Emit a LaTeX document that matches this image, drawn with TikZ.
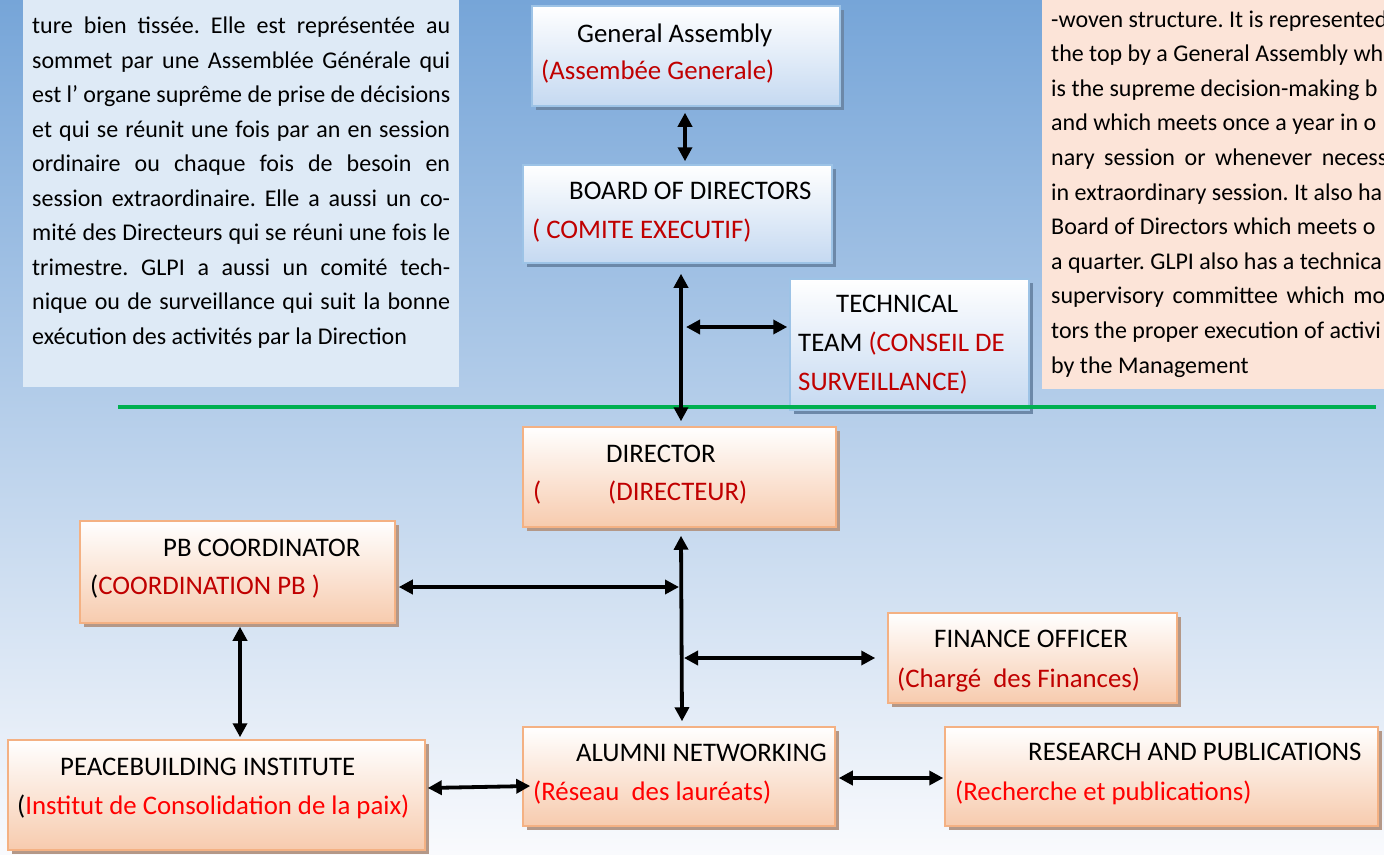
\documentclass[tikz,border=0pt]{standalone}
\usepackage{fontspec}
\setmainfont{Carlito}
\usetikzlibrary{arrows.meta,shadows}
\frenchspacing
\definecolor{bgtop}{HTML}{76A5D8}
\definecolor{bgmid}{HTML}{D2DEEF}
\definecolor{bgbot}{HTML}{F9FAFD}
\definecolor{frbox}{HTML}{DEEAF6}
\definecolor{enbox}{HTML}{FCE4D8}
\definecolor{blueline}{HTML}{9DC3E6}
\definecolor{bluebot}{HTML}{C5D9F1}
\definecolor{blueshadow}{HTML}{6C88A8}
\definecolor{orangeline}{HTML}{F4B183}
\definecolor{orangebot}{HTML}{F7CBAE}
\definecolor{orangeshadow}{HTML}{B49888}
\definecolor{dred}{HTML}{C00000}
\definecolor{bred}{HTML}{FF0000}
\definecolor{sepgreen}{HTML}{00B050}
\begin{document}
\begin{tikzpicture}[x=1pt,y=-1pt,
  bluebox/.style={draw=blueline, line width=1.5pt, top color=white, bottom color=bluebot, inner sep=0,
    drop shadow={shadow xshift=4pt, shadow yshift=-4pt, fill=blueshadow, opacity=1}},
  orangebox/.style={draw=orangeline, line width=1.5pt, top color=white, bottom color=orangebot, inner sep=0,
    drop shadow={shadow xshift=4pt, shadow yshift=-4pt, fill=orangeshadow, opacity=1}},
  txt/.style={anchor=base west, inner sep=0, font=\fontsize{26.8}{30}\selectfont},
  ptxt/.style={anchor=base west, inner sep=0, font=\fontsize{24}{28}\selectfont},
  bi/.style={{Triangle[length=14pt,width=14pt]}-{Triangle[length=14pt,width=14pt]}, line width=3.8pt, black},
  sep/.style={draw=sepgreen, line width=4pt}
]
\useasboundingbox (0,0) rectangle (1384,854);
\clip (0,0) rectangle (1384,854);
\shade[top color=bgtop, middle color=bgmid, bottom color=bgbot] (0,0) rectangle (1384,854);

% text panels
\node[fill=frbox, inner sep=0, minimum width=436pt, minimum height=407pt] (frpanel) at (241,183.5) {};
\node[fill=enbox, inner sep=0, minimum width=440pt, minimum height=409pt] (enpanel) at (1262,184.5) {};

% French paragraph
\node[ptxt] (l1) at (32,33.5) {\makebox[418pt][s]{ture bien tissée. Elle est représentée au}};
\node[ptxt] (l2) at (32,68) {\makebox[418pt][s]{sommet par une Assemblée Générale qui}};
\node[ptxt] (l3) at (32,102.5) {\makebox[418pt][s]{est l{\char"0027} organe suprême de prise de décisions}};
\node[ptxt] (l4) at (32,137) {\makebox[418pt][s]{et qui se réunit une fois par an en session}};
\node[ptxt] (l5) at (32,171.5) {\makebox[418pt][s]{ordinaire ou chaque fois de besoin en}};
\node[ptxt] (l6) at (32,206) {\makebox[418pt][s]{session extraordinaire. Elle a aussi un co-}};
\node[ptxt] (l7) at (32,240.5) {\makebox[418pt][s]{mité des Directeurs qui se réuni une fois le}};
\node[ptxt] (l8) at (32,275) {\makebox[418pt][s]{trimestre. GLPI a aussi un comité tech-}};
\node[ptxt] (l9) at (32,309.5) {\makebox[418pt][s]{nique ou de surveillance qui suit la bonne}};
\node[ptxt] (l10) at (32,344) {exécution des activités par la Direction};

% English paragraph
\node[ptxt] (r1) at (1051,27) {-woven structure. It is represented};
\node[ptxt] (r2) at (1051,61.6) {the top by a General Assembly wh};
\node[ptxt] (r3) at (1051,96.2) {is the supreme decision-making b};
\node[ptxt] (r4) at (1051,130.8) {and which meets once a year in o};
\node[ptxt] (r5) at (1051,165.4) {\makebox[336pt][s]{nary session or whenever necess}};
\node[ptxt] (r6) at (1051,200) {in extraordinary session. It also ha};
\node[ptxt] (r7) at (1051,234.6) {Board of Directors which meets o};
\node[ptxt] (r8) at (1051,269.2) {a quarter. GLPI also has a technica};
\node[ptxt] (r9) at (1051,303.8) {\makebox[334pt][s]{supervisory committee which mo}};
\node[ptxt] (r10) at (1051,338.4) {tors the proper execution of activi};
\node[ptxt] (r11) at (1051,373) {by the Management};

% blue boxes
\node[bluebox, minimum width=308pt, minimum height=100pt] (ga) at (686,56) {};
\node[bluebox, minimum width=309pt, minimum height=98pt] (board) at (677.5,214) {};
\node[bluebox, minimum width=239pt, minimum height=131pt] (tech) at (909.5,344.5) {};

% orange boxes
\node[orangebox, minimum width=313pt, minimum height=100pt] (dir) at (679.5,477) {};
\node[orangebox, minimum width=315pt, minimum height=102pt] (pb) at (237.5,572) {};
\node[orangebox, minimum width=417pt, minimum height=110pt] (pi) at (216.5,795) {};
\node[orangebox, minimum width=312pt, minimum height=99pt] (alum) at (679,776.5) {};
\node[orangebox, minimum width=289pt, minimum height=90pt] (fin) at (1032.5,658) {};
\node[orangebox, minimum width=433pt, minimum height=99pt] (res) at (1161.5,776.5) {};

% box texts
\node[txt] (gat1) at (577,42) {General Assembly};
\node[txt] (gat2) at (541,79) {\textcolor{dred}{(Assembée Generale)}};
\node[txt] (bt1) at (569,199) {BOARD OF DIRECTORS};
\node[txt] (bt2) at (532,238) {\textcolor{dred}{( COMITE EXECUTIF)}};
\node[txt] (tt1) at (836,312) {TECHNICAL};
\node[txt] (tt2) at (798,351) {TEAM \textcolor{dred}{(CONSEIL DE}};
\node[txt] (tt3) at (798,390) {\textcolor{dred}{SURVEILLANCE)}};
\node[txt] (dt1) at (606,462) {DIRECTOR};
\node[txt] (dt2) at (533,500) {\textcolor{dred}{(}};
\node[txt] (dt3) at (608,500) {\textcolor{dred}{(DIRECTEUR)}};
\node[txt] (pt1) at (163,556) {PB COORDINATOR};
\node[txt] (pt2) at (90,594) {(\textcolor{dred}{COORDINATION PB )}};
\node[txt] (it1) at (60,775) {PEACEBUILDING INSTITUTE};
\node[txt] (it2) at (17,814) {(\textcolor{bred}{Institut de Consolidation de la paix)}};
\node[txt] (at1) at (576,761) {ALUMNI NETWORKING};
\node[txt] (at2) at (533,800) {\textcolor{bred}{(Réseau\ \ des lauréats)}};
\node[txt] (ft1) at (934,647) {FINANCE OFFICER};
\node[txt] (ft2) at (897,687) {\textcolor{dred}{(Chargé\ \ des Finances)}};
\node[txt] (rt1) at (1028,760) {RESEARCH AND PUBLICATIONS};
\node[txt] (rt2) at (955,800) {\textcolor{bred}{(Recherche et publications)}};

% separator
\coordinate (g1) at (118,407);
\coordinate (g2) at (1376,407);
\draw[sep] (g1) -- (g2);

% junction points on the vertical connectors
\coordinate (tj) at (686,327);
\coordinate (pj) at (679,587);
\coordinate (fj) at (684,658);

% connectors
\draw[bi] ([xshift=-1pt,yshift=-6pt]ga.south) -- ([xshift=7.5pt,yshift=3pt]board.north);
\draw[bi] ([xshift=3.5pt,yshift=-10pt]board.south) -- ([xshift=1.5pt,yshift=5pt]dir.north);
\draw[bi] (tj) -- ([xshift=-2pt,yshift=17.5pt]tech.west);
\draw[bi] ([xshift=1.5pt,yshift=-8pt]dir.south) -- ([xshift=3pt,yshift=5pt]alum.north);
\draw[bi] ([xshift=3pt,yshift=-15pt]pb.east) -- (pj);
\draw[bi] (fj) -- ([xshift=-12pt]fin.west);
\draw[bi] ([xshift=2.5pt,yshift=-3pt]pb.south) -- ([xshift=23.5pt,yshift=2pt]pi.north);
\draw[bi] ([xshift=2pt,yshift=7pt]pi.east) -- ([xshift=8pt,yshift=-9.5pt]alum.west);
\draw[bi] ([xshift=3pt,yshift=-1.5pt]alum.east) -- ([xshift=-1pt,yshift=-1.5pt]res.west);
\end{tikzpicture}
\end{document}
